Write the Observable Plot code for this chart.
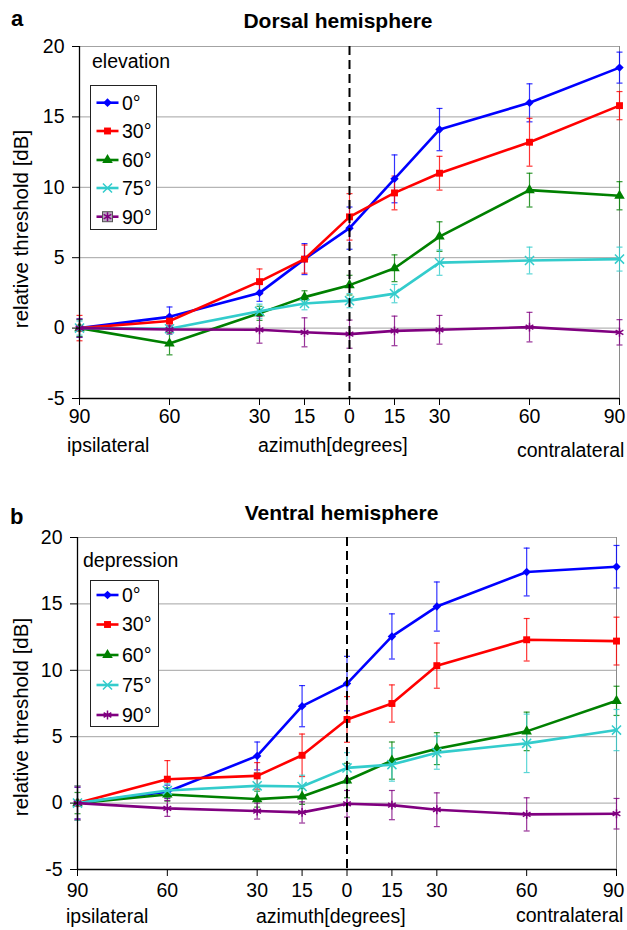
<!DOCTYPE html>
<html><head><meta charset="utf-8">
<script src="https://cdn.jsdelivr.net/npm/d3@7"></script>
<script src="https://cdn.jsdelivr.net/npm/@observablehq/plot@0.6"></script>
<style>
body{margin:0;background:#fff;}
#fig{position:relative;width:627px;height:930px;font-family:"Liberation Sans",Arial,Helvetica,sans-serif;color:#000;overflow:hidden;background:#fff}
.t{position:absolute;white-space:nowrap;line-height:1;font-size:19.5px}
.b{font-weight:bold}
.panel{position:absolute;left:0}
.legend{position:absolute;overflow:visible}
.ylab{position:absolute;white-space:nowrap;line-height:1;font-size:20.5px;transform:translate(-50%,-50%) rotate(-90deg)}
</style></head><body><div id="fig"></div>
<script>
// ---- data ----
const azimuth = [-90, -60, -30, -15, 0, 15, 30, 60, 90];
const xTickLabels = ["90", "60", "30", "15", "0", "15", "30", "60", "90"];
const yTicks = [-5, 0, 5, 10, 15, 20];
const gridValues = [0, 5, 10, 15, 20];
const seriesLabels = ["0°", "30°", "60°", "75°", "90°"];
const seriesColors = ["#0000ff", "#ff0000", "#008000", "#33cccc", "#800080"];
const seriesSymbols = ["diamond2", "square", "triangle", "times", "asterisk"];

// Dorsal hemisphere (elevation)
const dorsal0 = [0, 0.8, 2.5, 4.9, 7.1, 10.6, 14.1, 16.0, 18.5];
const dorsal30 = [0, 0.5, 3.3, 4.9, 7.9, 9.6, 11.0, 13.2, 15.8];
const dorsal60 = [0, -1.1, 1.05, 2.2, 3.05, 4.25, 6.5, 9.8, 9.4];
const dorsal75 = [0, -0.05, 1.2, 1.75, 1.95, 2.45, 4.65, 4.8, 4.9];
const dorsal90 = [0, -0.1, -0.12, -0.3, -0.43, -0.2, -0.12, 0.07, -0.3];
const dorsal0Err = [0.65, 0.7, 0.6, 1.1, 1.5, 1.7, 1.5, 1.35, 1.1];
const dorsal30Err = [0.9, 0.4, 0.9, 1.0, 1.65, 1.2, 1.2, 1.7, 1.0];
const dorsal60Err = [0.6, 0.8, 0.5, 0.45, 0.7, 0.95, 1.05, 1.2, 1.0];
const dorsal75Err = [0.5, 0.4, 0.5, 0.45, 0.5, 0.65, 0.9, 0.95, 0.85];
const dorsal90Err = [0.65, 0.3, 0.95, 1.03, 1.0, 1.05, 1.02, 1.05, 0.9];

// Ventral hemisphere (depression)
const ventral0 = [0, 0.85, 3.55, 7.3, 9.0, 12.55, 14.8, 17.4, 17.8];
const ventral30 = [0, 1.8, 2.05, 3.6, 6.3, 7.5, 10.35, 12.3, 12.2];
const ventral60 = [0, 0.65, 0.3, 0.5, 1.7, 3.2, 4.1, 5.4, 7.7];
const ventral75 = [0, 0.95, 1.3, 1.25, 2.65, 2.9, 3.8, 4.5, 5.5];
const ventral90 = [0, -0.4, -0.6, -0.7, -0.05, -0.15, -0.5, -0.85, -0.8];
const ventral0Err = [1.2, 0.5, 1.05, 1.55, 2.05, 1.7, 1.85, 1.8, 1.6];
const ventral30Err = [1.3, 1.4, 1.0, 1.6, 1.72, 1.4, 1.7, 1.6, 1.8];
const ventral60Err = [0.8, 0.5, 0.6, 0.6, 1.3, 1.4, 1.2, 1.45, 1.1];
const ventral75Err = [1.3, 0.5, 1.0, 0.85, 1.15, 1.25, 1.25, 2.2, 1.55];
const ventral90Err = [1.2, 0.6, 0.6, 0.8, 1.0, 1.1, 1.27, 1.25, 1.15];

// ---- helpers ----
function buildRows(values, errors) {
  const out = [];
  seriesLabels.forEach((s, i) => azimuth.forEach((a, j) =>
    out.push({series: s, idx: i, az: a, v: values[i][j], e: errors[i][j]})));
  return out;
}
const capSymbol = {draw(ctx, size) { const r = Math.sqrt(size / Math.PI); ctx.moveTo(-r, 0); ctx.lineTo(r, 0); }};
const FONT = '"Liberation Sans", Arial, Helvetica, sans-serif';
const lastAz = azimuth[azimuth.length - 1];

function makePanel(rows, o) {
  const marks = [
    Plot.ruleY(gridValues, {stroke: "#a3a3a3", strokeWidth: 1}),
    Plot.ruleX([lastAz], {stroke: "#8a8a8a", strokeWidth: 1})
  ];
  seriesLabels.forEach((s, i) => {
    const d = rows.filter(r => r.idx === i);
    const c = seriesColors[i];
    marks.push(Plot.ruleX(d, {x: "az", y1: r => r.v - r.e, y2: r => r.v + r.e, stroke: c, strokeWidth: 1.2, strokeOpacity: 0.8}));
    marks.push(Plot.dot(d, {x: "az", y: r => r.v - r.e, symbol: capSymbol, r: 3, fill: "none", stroke: c, strokeWidth: 1.2, strokeOpacity: 0.8}));
    marks.push(Plot.dot(d, {x: "az", y: r => r.v + r.e, symbol: capSymbol, r: 3, fill: "none", stroke: c, strokeWidth: 1.2, strokeOpacity: 0.8}));
  });
  seriesLabels.forEach((s, i) => {
    const d = rows.filter(r => r.idx === i);
    const c = seriesColors[i];
    marks.push(Plot.line(d, {x: "az", y: "v", stroke: c, strokeWidth: 2.6}));
    const sym = seriesSymbols[i];
    if (sym === "times" || sym === "asterisk") {
      marks.push(Plot.dot(d, {x: "az", y: "v", symbol: sym, r: 4.2, fill: "none", stroke: c, strokeWidth: 1.5}));
    } else {
      marks.push(Plot.dot(d, {x: "az", y: "v", symbol: sym, r: sym === "diamond2" ? 3.8 : 3.9, fill: c, stroke: "none"}));
    }
  });
  const fmt = d => xTickLabels[azimuth.indexOf(d)];
  marks.push(
    Plot.ruleX([0], {stroke: "#000", strokeWidth: 2, strokeDasharray: "9,5"}),
    Plot.ruleX([azimuth[0]], {stroke: "#000", strokeWidth: 1.3}),
    Plot.ruleY([yTicks[0]], {stroke: "#000", strokeWidth: 1.3}),
    Plot.axisX({ticks: azimuth, tickFormat: d => d === lastAz ? "" : fmt(d), tickSize: 7, tickPadding: o.tp, label: null, fontSize: 19.5}),
    Plot.axisX({ticks: [lastAz], tickFormat: fmt, tickSize: 0, tickPadding: 7 + o.tp, dx: o.lastDx, label: null, fontSize: 19.5}),
    Plot.axisY({ticks: yTicks, tickFormat: d => String(d), tickSize: 7, tickPadding: 8, label: null, fontSize: 19.5})
  );
  return Plot.plot({
    width: 627, height: o.height,
    marginLeft: o.ml, marginRight: o.mr, marginTop: o.mt, marginBottom: o.mb,
    x: {domain: [-90, 90]},
    y: {domain: [-5, 20]},
    style: {fontFamily: FONT, fontSize: "19.5px", color: "#000", background: "transparent", overflow: "visible"},
    marks
  });
}

function addText(fig, str, left, top, cls, extra) {
  const el = document.createElement("div");
  el.className = "t " + (cls || "");
  el.textContent = str;
  el.style.left = left + "px";
  el.style.top = top + "px";
  if (extra) Object.assign(el.style, extra);
  fig.appendChild(el);
  return el;
}
function addYLabel(fig, str, cx, cy) {
  const el = document.createElement("div");
  el.className = "ylab";
  el.textContent = str;
  el.style.left = cx + "px";
  el.style.top = cy + "px";
  fig.appendChild(el);
}

const symbolMap = {diamond2: d3.symbolDiamond2, square: d3.symbolSquare, triangle: d3.symbolTriangle, times: d3.symbolTimes, asterisk: d3.symbolAsterisk};

function addLegend(fig, o) {
  const svg = d3.select(fig).append("svg").attr("class", "legend")
    .attr("width", o.w).attr("height", o.h)
    .style("left", o.left + "px").style("top", o.top + "px");
  svg.append("rect").attr("x", 0.5).attr("y", 0.5).attr("width", o.w - 1).attr("height", o.h - 1)
    .attr("fill", "#fff").attr("stroke", "#222").attr("stroke-width", 1);
  seriesLabels.forEach((s, i) => {
    const cy = o.rowY[i];
    const c = seriesColors[i];
    svg.append("line").attr("x1", 6.5).attr("x2", 28.5).attr("y1", cy).attr("y2", cy).attr("stroke", c).attr("stroke-width", 2.6);
    const sym = seriesSymbols[i];
    const stroked = sym === "times" || sym === "asterisk";
    const r = stroked ? 4.2 : 3.9;
    if (o.boxed90 && i === 4) {
      svg.append("rect").attr("x", 17.5 - 5).attr("y", cy - 5).attr("width", 10).attr("height", 10)
        .attr("fill", "#b9a9bf").attr("stroke", "#555").attr("stroke-width", 1);
    }
    svg.append("path").attr("transform", `translate(17.5,${cy})`)
      .attr("d", d3.symbol(symbolMap[sym], Math.PI * r * r)())
      .attr("fill", stroked ? "none" : c).attr("stroke", stroked ? c : "none").attr("stroke-width", 1.5);
    svg.append("text").attr("x", 32).attr("y", cy).attr("dy", "0.35em")
      .attr("font-family", FONT).attr("font-size", 19.5).attr("fill", "#000").text(s);
  });
}

// ---- figure ----
const fig = document.getElementById("fig");

const panelA = makePanel(buildRows([dorsal0, dorsal30, dorsal60, dorsal75, dorsal90],
  [dorsal0Err, dorsal30Err, dorsal60Err, dorsal75Err, dorsal90Err]),
  {height: 470, ml: 79, mr: 8, mt: 46, mb: 72, lastDx: -5, tp: 4});
panelA.classList.add("panel"); panelA.style.top = "0px";
fig.appendChild(panelA);

const panelB = makePanel(buildRows([ventral0, ventral30, ventral60, ventral75, ventral90],
  [ventral0Err, ventral30Err, ventral60Err, ventral75Err, ventral90Err]),
  {height: 460, ml: 77, mr: 11, mt: 67, mb: 61, lastDx: -3, tp: 6.5});
panelB.classList.add("panel"); panelB.style.top = "470px";
fig.appendChild(panelB);

// panel a texts
addText(fig, "a", 11, 8, "b", {fontSize: "22px"});
addText(fig, "Dorsal hemisphere", 188, 9.5, "b", {fontSize: "21px", width: "300px", textAlign: "center"});
addText(fig, "elevation", 92, 52);
addText(fig, "ipsilateral", 67, 436);
addText(fig, "azimuth[degrees]", 258, 436);
addText(fig, "contralateral", 517, 441);
addYLabel(fig, "relative threshold [dB]", 21, 229);
addLegend(fig, {left: 90, top: 85, w: 67, h: 145, rowY: [17.7, 46, 75, 103, 131.7], boxed90: true});

// panel b texts
addText(fig, "b", 10, 506, "b", {fontSize: "22px"});
addText(fig, "Ventral hemisphere", 191.5, 502, "b", {fontSize: "21px", width: "300px", textAlign: "center"});
addText(fig, "depression", 83, 551);
addText(fig, "ipsilateral", 66, 907);
addText(fig, "azimuth[degrees]", 256, 907);
addText(fig, "contralateral", 516, 906);
addYLabel(fig, "relative threshold [dB]", 21, 717);
addLegend(fig, {left: 90, top: 580, w: 69, h: 147, rowY: [15, 44.5, 75, 105, 135], boxed90: false});
</script>
</body></html>
